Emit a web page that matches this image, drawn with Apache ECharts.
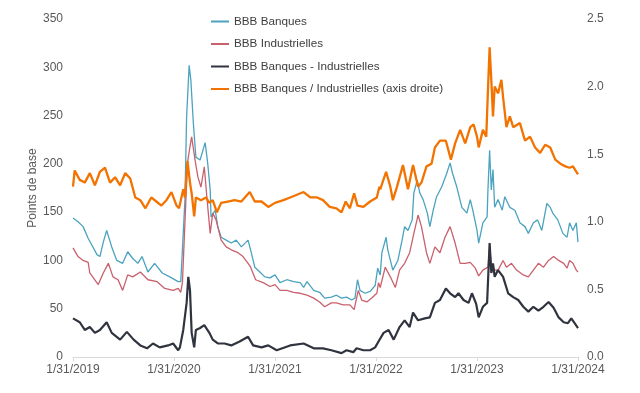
<!DOCTYPE html>
<html><head><meta charset="utf-8">
<script src="https://cdn.jsdelivr.net/npm/echarts@6/dist/echarts.min.js"></script>
<style>html,body{margin:0;padding:0;background:#fff}#c{width:640px;height:393px}</style>
</head><body><div id="c"></div>
<script>
// x = months since 1/31/2019
const xTickLabels = ['1/31/2019','1/31/2020','1/31/2021','1/31/2022','1/31/2023','1/31/2024'];
const seriesNames = ['BBB Banques','BBB Industrielles','BBB Banques - Industrielles','BBB Banques / Industrielles (axis droite)'];
const banques = [[0,144],[0.6,140],[1.2,135],[1.8,123],[2.85,106],[3.2,104],[3.6,119],[4.0,131],[4.6,114],[5.2,100],[5.9,97],[6.5,109],[7.1,102],[7.7,97],[8.2,104],[8.9,88],[9.7,97],[10.6,87],[11.5,83],[12.5,78],[12.8,78],[13.0,111],[13.3,163],[13.5,249],[13.8,302],[14.0,287],[14.3,242],[14.6,207],[15.1,204],[15.7,222],[16.0,201],[16.3,173],[16.4,145],[16.9,152],[17.2,135],[17.6,124],[18.2,121],[18.8,118],[19.4,121],[20.0,114],[20.8,121],[21.1,111],[21.6,93],[22.2,88],[22.8,83],[23.4,82],[24.0,85],[24.6,77],[25.4,80],[26.2,78],[27.0,77],[27.4,72],[27.8,78],[28.6,69],[29.3,67],[29.9,61],[30.7,62],[31.3,64],[31.9,61],[32.5,62],[33.1,59],[33.5,61],[33.8,80],[34.1,69],[34.7,66],[35.3,68],[35.9,74],[36.2,92],[36.5,85],[36.7,108],[37.2,124],[37.4,111],[38.0,90],[38.6,100],[39.1,121],[39.4,135],[39.8,131],[40.3,142],[40.5,170],[40.9,183],[41.2,170],[41.6,163],[42.1,149],[42.4,135],[42.8,152],[43.2,166],[43.8,176],[44.4,190],[44.8,201],[45.1,190],[45.6,176],[46.2,155],[46.8,149],[47.2,163],[47.5,152],[48.0,131],[48.2,118],[48.7,139],[49.2,145],[49.3,173],[49.5,214],[49.7,173],[49.9,194],[50.1,155],[50.5,163],[51.0,152],[51.3,166],[51.9,155],[52.5,152],[53.1,139],[53.7,135],[54.1,128],[54.7,139],[55.2,142],[55.7,131],[56.3,159],[56.7,155],[57.0,149],[57.6,142],[58.2,128],[58.7,124],[59.0,139],[59.4,131],[59.8,139],[60,119]];
const industrielles = [[0,113],[0.6,104],[1.2,100],[1.8,98],[2.0,87],[3.0,75],[3.6,87],[4.2,97],[4.75,83],[5.35,80],[5.9,69],[6.5,85],[7.1,83],[8.0,88],[8.9,80],[10.0,78],[10.9,71],[11.9,69],[12.5,71],[12.8,67],[13.0,77],[13.3,139],[13.6,201],[13.9,218],[14.1,228],[14.5,204],[14.85,186],[15.2,176],[15.6,197],[15.9,166],[16.3,128],[16.6,149],[17.0,142],[17.6,121],[18.2,114],[18.8,111],[19.6,108],[20.2,104],[20.8,97],[21.1,93],[21.7,80],[22.6,77],[23.4,73],[24.0,75],[24.6,69],[25.4,69],[26.2,67],[27.0,66],[27.8,64],[28.6,61],[29.3,57],[29.9,52],[30.7,56],[31.3,56],[32.1,54],[32.9,54],[33.4,49],[33.9,69],[34.3,59],[34.9,57],[35.5,61],[36.1,66],[36.3,77],[36.5,72],[37.1,93],[37.7,83],[38.3,72],[38.8,90],[39.4,97],[40.0,108],[40.5,128],[41.0,147],[41.4,135],[42.0,108],[42.4,97],[43.0,114],[43.6,108],[44.2,124],[44.8,135],[45.4,118],[46.0,97],[46.6,97],[47.2,98],[47.8,92],[48.2,84],[48.7,90],[49.3,93],[49.5,114],[49.7,97],[50.1,90],[50.5,90],[51.1,100],[51.5,93],[52.1,97],[52.7,90],[53.5,85],[54.1,83],[54.7,90],[55.3,97],[55.9,93],[56.5,100],[57.1,104],[57.7,100],[58.3,97],[58.7,92],[59.0,100],[59.4,97],[59.8,90],[60,88]];
const ecart = [[0,40],[0.8,36],[1.4,28],[2.0,31],[2.6,25],[3.2,28],[4.0,36],[4.6,25],[5.6,18],[6.4,26],[7.2,18],[8.0,12],[8.8,9],[9.5,14],[10.3,10],[11.3,12],[11.9,14],[12.5,7],[12.7,10],[13.1,28],[13.5,56],[13.7,83],[13.9,69],[14.1,25],[14.4,10],[14.6,28],[15.1,30],[15.6,33],[16.2,25],[16.6,18],[17.2,14],[18.0,14],[18.8,12],[19.8,16],[20.8,21],[21.4,12],[22.4,10],[23.2,12],[24.2,7],[25.8,12],[27.4,14],[28.6,9],[29.7,9],[30.7,7],[31.9,4],[32.5,7],[33.3,5],[33.7,9],[34.5,7],[35.3,7],[35.9,10],[36.3,16],[36.9,25],[37.5,28],[38.1,18],[38.8,31],[39.4,38],[40.0,31],[40.4,46],[41.0,38],[41.8,40],[42.4,41],[43.0,56],[43.6,59],[44.3,71],[44.8,66],[45.4,62],[45.8,66],[46.4,59],[47.0,56],[47.4,66],[47.9,55],[48.2,41],[48.7,52],[49.2,56],[49.5,118],[49.7,87],[49.9,97],[50.1,83],[50.5,90],[51.1,83],[51.7,66],[52.3,62],[52.9,59],[53.5,52],[54.1,47],[54.7,52],[55.3,48],[55.9,52],[56.5,57],[57.1,51],[57.7,41],[58.3,36],[58.8,35],[59.2,40],[59.6,35],[60,30]];
const ratio = [[0,1.26],[0.2,1.38],[0.8,1.31],[1.4,1.29],[2.0,1.36],[2.6,1.27],[3.2,1.37],[3.8,1.40],[4.4,1.29],[5.0,1.33],[5.6,1.27],[6.2,1.36],[6.8,1.32],[7.4,1.18],[8.0,1.16],[8.6,1.10],[9.3,1.18],[9.9,1.15],[10.5,1.12],[11.1,1.16],[11.7,1.22],[12.3,1.12],[12.6,1.10],[13.1,1.24],[13.3,1.18],[13.6,1.45],[13.9,1.29],[14.1,1.21],[14.4,1.04],[14.6,1.18],[15.2,1.16],[15.8,1.18],[16.2,1.14],[16.6,1.16],[17.1,1.07],[17.6,1.14],[18.4,1.15],[19.2,1.16],[20.0,1.15],[21.0,1.22],[21.6,1.15],[22.4,1.15],[23.2,1.11],[24.0,1.14],[25.0,1.16],[25.8,1.18],[26.6,1.20],[27.4,1.22],[28.2,1.18],[29.0,1.18],[29.7,1.16],[30.5,1.11],[31.3,1.10],[31.9,1.07],[32.4,1.15],[32.9,1.10],[33.4,1.21],[33.8,1.12],[34.5,1.11],[35.3,1.15],[36.1,1.18],[36.4,1.26],[36.5,1.24],[37.2,1.37],[37.7,1.26],[38.0,1.16],[38.5,1.26],[39.2,1.42],[39.8,1.24],[40.4,1.42],[41.0,1.26],[41.4,1.29],[42.0,1.41],[42.6,1.43],[43.0,1.55],[43.6,1.60],[44.3,1.60],[44.9,1.46],[45.4,1.58],[46.0,1.68],[46.6,1.58],[47.2,1.70],[47.6,1.72],[48.0,1.63],[48.2,1.55],[48.7,1.68],[49.1,1.63],[49.3,1.97],[49.5,2.29],[49.7,2.05],[49.9,1.78],[50.1,2.00],[50.5,1.95],[50.9,2.05],[51.1,1.92],[51.5,1.70],[51.9,1.78],[52.3,1.70],[53.1,1.73],[53.7,1.60],[54.3,1.63],[54.9,1.55],[55.5,1.51],[56.1,1.57],[56.7,1.55],[57.3,1.46],[57.9,1.43],[58.5,1.41],[59.0,1.40],[59.4,1.41],[60,1.35]];

const colors = ['#4ba3bf','#c9606d','#30343f','#f27300'];
const widths = [1.3,1.3,2.2,2.3];
const font = 'Liberation Sans, Arial, sans-serif';
const labelColor = '#595959';

const chart = echarts.init(document.getElementById('c'), null, {renderer:'canvas'});
const datas = [banques, industrielles, ecart, ratio];
chart.setOption({
  animation: false,
  backgroundColor: '#fff',
  grid: {left: 73, right: 62, top: 19, bottom: 36},
  legend: {
    orient: 'vertical', left: 211, top: 15.5, itemGap: 10.5, padding: 0,
    itemWidth: 18, itemHeight: 2, icon: 'rect',
    textStyle: {fontFamily: font, fontSize: 11.7, color: '#404040'},
    data: seriesNames
  },
  xAxis: {
    type: 'value', min: 0, max: 60, interval: 12,
    axisLine: {show: true, lineStyle: {color: '#d9d9d9', width: 1}},
    axisTick: {show: true, length: 4, lineStyle: {color: '#d9d9d9'}},
    splitLine: {show: false},
    axisLabel: {fontFamily: font, fontSize: 12, color: labelColor, margin: 7,
      formatter: v => xTickLabels[Math.round(v/12)] || ''}
  },
  yAxis: [{
    type: 'value', min: 0, max: 350, interval: 50,
    name: 'Points de base', nameLocation: 'middle', nameGap: 34, nameRotate: 90,
    nameMoveOverlap: false,
    nameTextStyle: {fontFamily: font, fontSize: 12, color: labelColor},
    axisLine: {show: false}, axisTick: {show: false}, splitLine: {show: false},
    axisLabel: {fontFamily: font, fontSize: 12, color: labelColor, margin: 10}
  },{
    type: 'value', min: 0, max: 2.5, interval: 0.5, position: 'right',
    axisLine: {show: false}, axisTick: {show: false}, splitLine: {show: false},
    axisLabel: {fontFamily: font, fontSize: 12, color: labelColor, margin: 9,
      formatter: v => v.toFixed(1)}
  }],
  series: seriesNames.map((n, i) => ({
    name: n, type: 'line', yAxisIndex: i === 3 ? 1 : 0,
    data: datas[i], showSymbol: false, symbol: 'none',
    lineStyle: {color: colors[i], width: widths[i]},
    itemStyle: {color: colors[i]}
  }))
});
</script></body></html>
